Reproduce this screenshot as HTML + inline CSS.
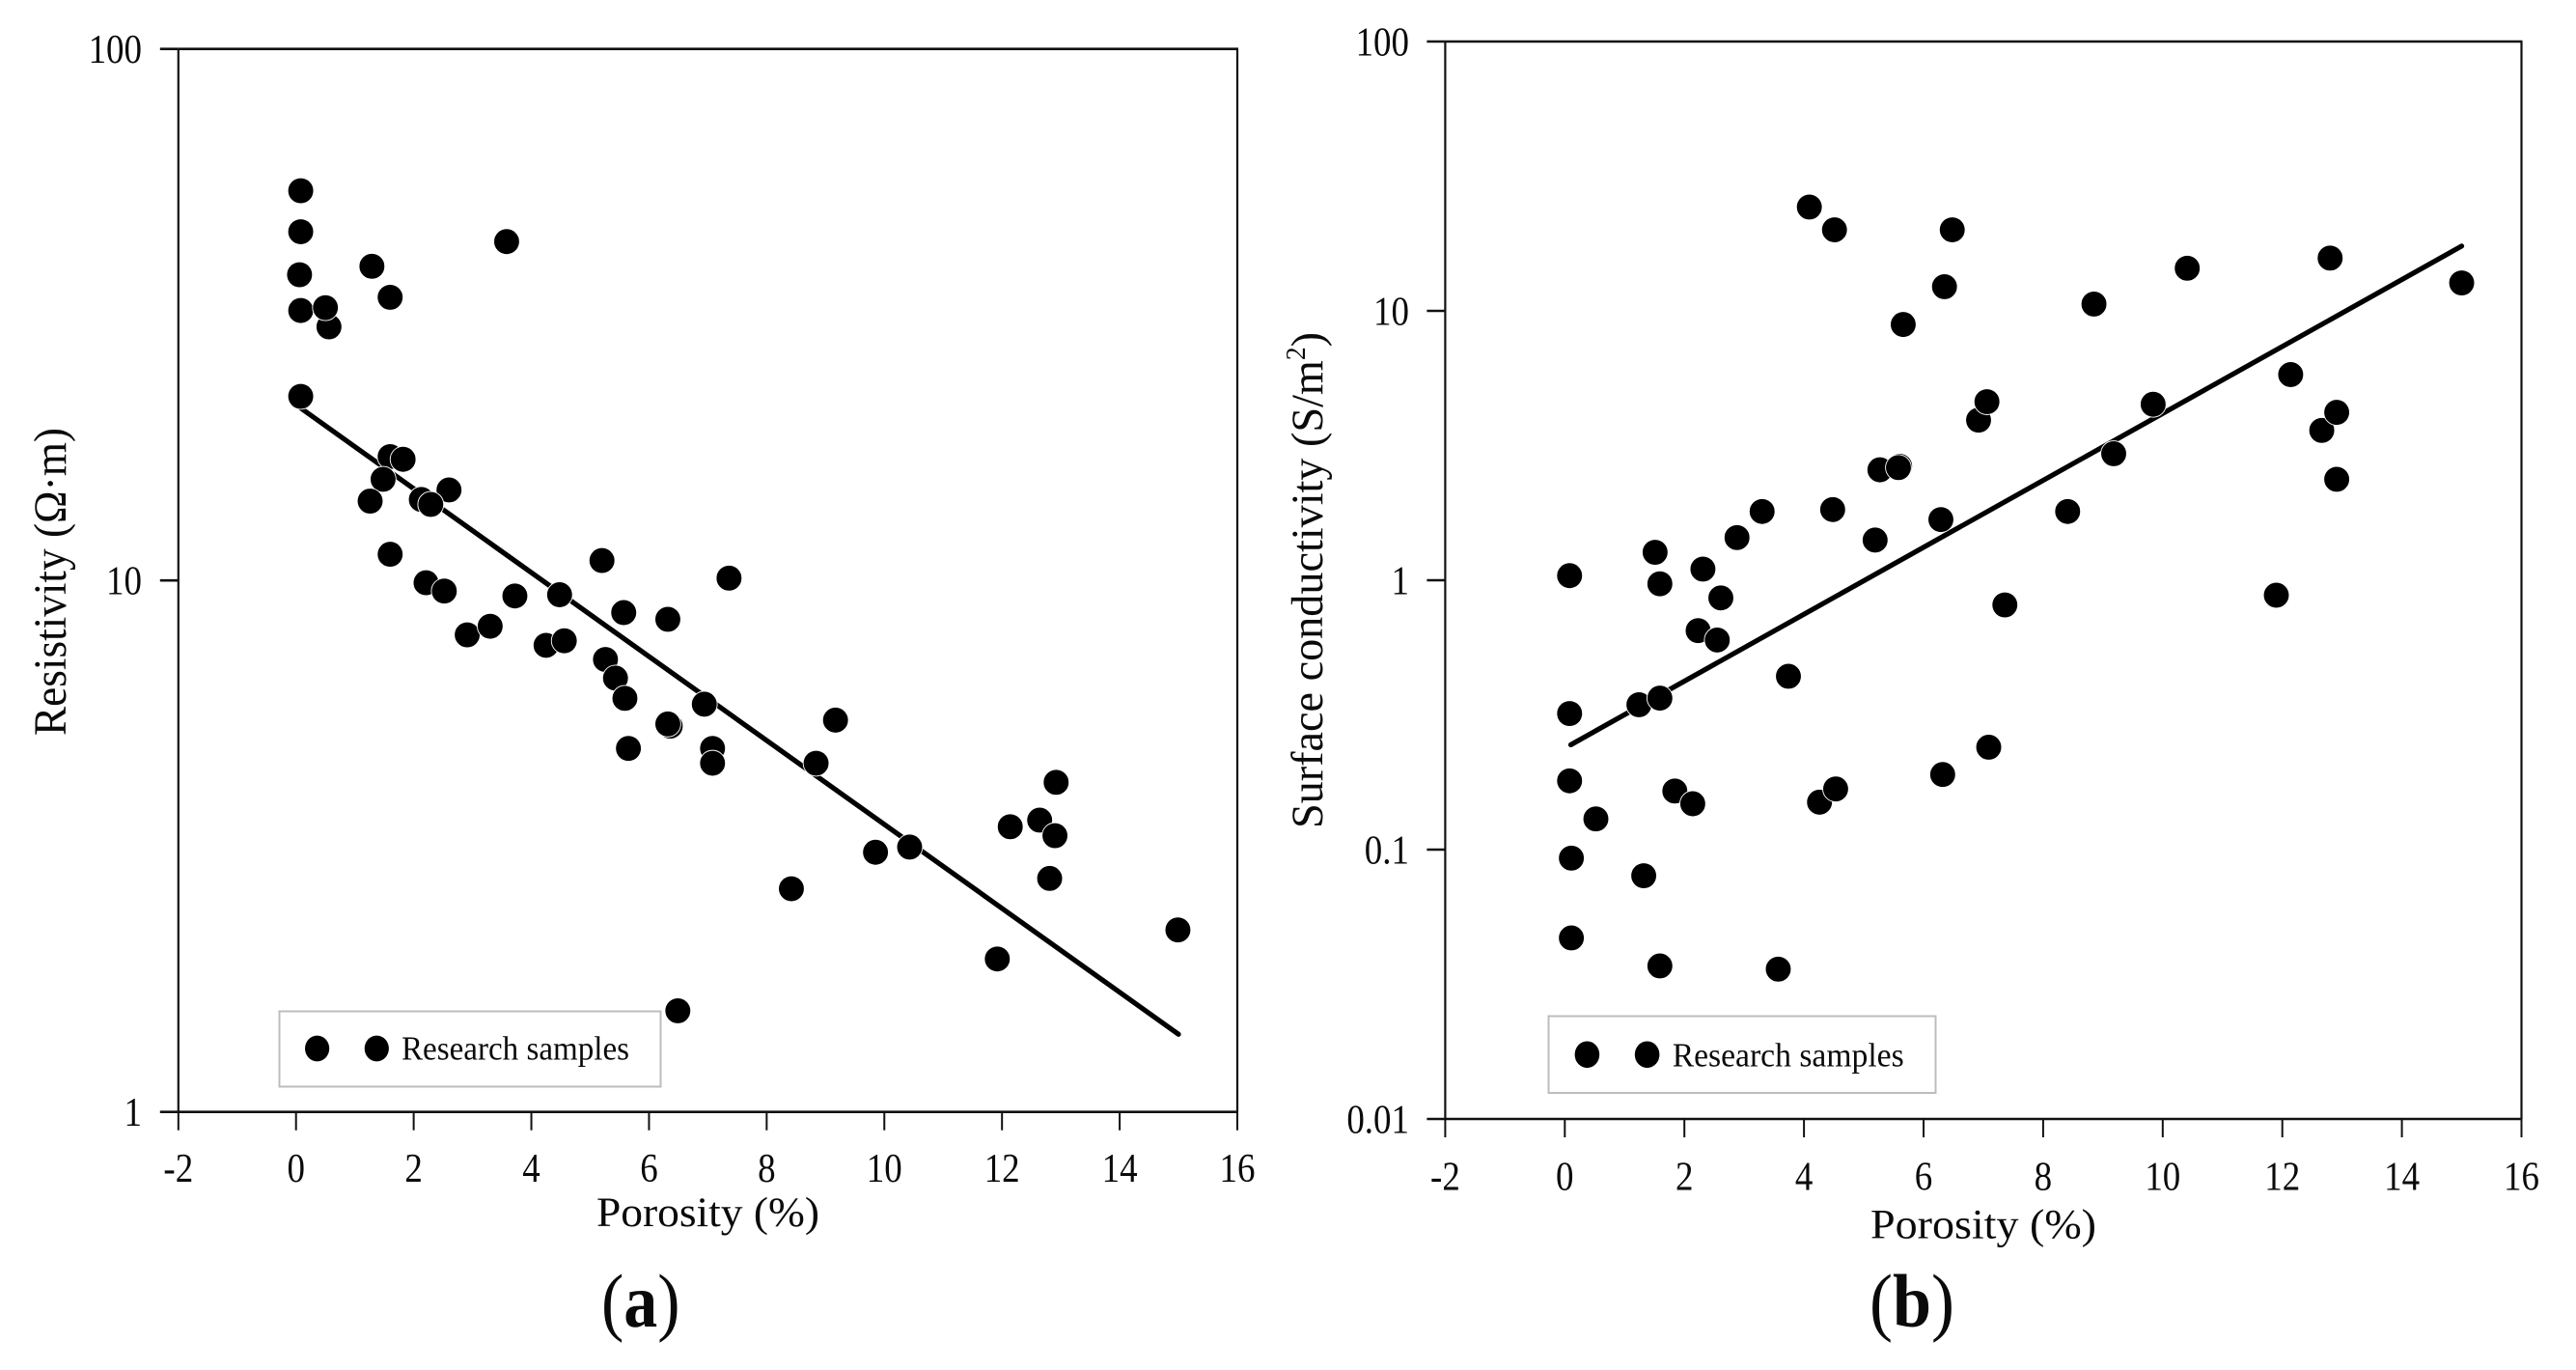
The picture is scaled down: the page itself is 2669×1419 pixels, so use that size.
<!DOCTYPE html>
<html lang="en">
<head>
<meta charset="utf-8">
<title>Resistivity and surface conductivity versus porosity</title>
<style>
html,body{margin:0;padding:0;background:#fff;}
svg{display:block;}
text{font-family:"Liberation Serif",serif;fill:#0a0a0a;}
</style>
</head>
<body>
<svg id="figure" xmlns="http://www.w3.org/2000/svg" width="2669" height="1419" viewBox="0 0 2669 1419">
  <rect x="0" y="0" width="2669" height="1419" fill="#fff"/>

  <g id="panel-a">
    <text transform="translate(68,762) rotate(-90)" font-size="48" textLength="319" lengthAdjust="spacingAndGlyphs">Resistivity (Ω·m)</text>
    <text x="618" y="1270" font-size="43" textLength="231" lengthAdjust="spacingAndGlyphs">Porosity (%)</text>
    <g>
      <rect x="289.5" y="1047.5" width="395" height="78" fill="#fff" stroke="#bdbdbd" stroke-width="2"/>
      <ellipse cx="328.6" cy="1086" rx="12.6" ry="13.4" fill="#000"/>
      <ellipse cx="390.3" cy="1086" rx="12.6" ry="13.4" fill="#000"/>
      <text x="416" y="1097.7" font-size="35" textLength="236" lengthAdjust="spacingAndGlyphs">Research samples</text>
    </g>
    <text x="623" y="1374" font-size="78" textLength="81.6" lengthAdjust="spacingAndGlyphs">(<tspan font-weight="bold">a</tspan>)</text>
  </g>

  <g id="panel-b">
    <text transform="translate(1370,858) rotate(-90)" font-size="47" textLength="514" lengthAdjust="spacingAndGlyphs">Surface conductivity (S/m<tspan font-size="28" dy="-18">2</tspan><tspan dy="18">)</tspan></text>
    <text x="1938" y="1282.7" font-size="43" textLength="234" lengthAdjust="spacingAndGlyphs">Porosity (%)</text>
    <g>
      <rect x="1604.5" y="1052.5" width="401" height="79.5" fill="#fff" stroke="#bdbdbd" stroke-width="2"/>
      <ellipse cx="1644.4" cy="1092.3" rx="12.8" ry="13.8" fill="#000"/>
      <ellipse cx="1706.6" cy="1092.3" rx="12.8" ry="13.8" fill="#000"/>
      <text x="1732.7" y="1104.3" font-size="35" textLength="240" lengthAdjust="spacingAndGlyphs">Research samples</text>
    </g>
    <text x="1937" y="1374" font-size="78" textLength="88" lengthAdjust="spacingAndGlyphs">(<tspan font-weight="bold">b</tspan>)</text>
  </g>
</svg>

<script>
const xTickValues = [-2, 0, 2, 4, 6, 8, 10, 12, 14, 16];
const yTickValuesA = [1, 10, 100];
const yTickLabelsA = ['1', '10', '100'];
const yTickValuesB = [0.01, 0.1, 1, 10, 100];
const yTickLabelsB = ['0.01', '0.1', '1', '10', '100'];

const porosityA = [0.08, 0.08, 0.06, 0.08, 0.56, 0.5, 1.29, 1.6, 3.58, 0.08, 1.6, 1.82, 1.48, 1.26, 2.6, 2.13, 2.29, 1.6, 2.21, 2.52, 2.91, 3.3, 3.72, 4.25, 4.48, 4.56, 5.2, 5.57, 5.26, 5.43, 5.59, 5.65, 6.32, 6.36, 6.32, 6.94, 7.08, 7.08, 7.36, 8.84, 9.17, 8.42, 9.85, 10.43, 6.49, 11.92, 12.14, 12.64, 12.92, 12.9, 12.81, 14.99];
const resistivity = [54.1, 45.3, 37.6, 32.2, 30.0, 32.6, 39.0, 34.1, 43.4, 22.2, 17.1, 16.9, 15.5, 14.1, 14.8, 14.2, 13.9, 11.2, 9.9, 9.55, 7.9, 8.2, 9.35, 7.55, 9.4, 7.7, 10.9, 8.7, 7.1, 6.55, 6.0, 4.83, 8.45, 5.32, 5.37, 5.85, 4.83, 4.53, 10.1, 4.53, 5.46, 2.63, 3.08, 3.15, 1.55, 1.94, 3.44, 3.54, 4.17, 3.31, 2.75, 2.2];
const fitPorosityA = [0.08, 15];
const fitResistivity = [21.1, 1.4];

const porosityB = [0.08, 0.08, 0.08, 0.11, 0.11, 0.52, 1.32, 1.59, 3.57, 1.24, 1.59, 1.51, 1.59, 2.31, 2.23, 2.61, 2.55, 1.84, 2.14, 2.88, 3.3, 3.74, 4.26, 4.53, 4.48, 5.19, 5.27, 5.6, 5.58, 6.29, 6.32, 7.09, 6.92, 7.06, 7.36, 8.41, 9.18, 9.84, 11.9, 12.14, 12.66, 12.91, 12.91, 4.09, 4.51, 5.66, 6.35, 6.48, 8.85, 10.41, 12.8, 15.0];
const surfaceConductivity = [1.04, 0.32, 0.18, 0.093, 0.047, 0.13, 0.08, 0.037, 0.036, 0.345, 0.365, 1.27, 0.97, 1.1, 0.65, 0.86, 0.6, 0.165, 0.148, 1.44, 1.8, 0.44, 0.15, 0.168, 1.83, 1.41, 2.57, 2.65, 2.62, 1.68, 0.19, 0.24, 3.93, 4.6, 0.81, 1.8, 2.95, 4.5, 0.88, 5.8, 3.6, 4.2, 2.37, 24.3, 20, 8.9, 12.3, 20, 10.6, 14.4, 15.7, 12.7];
const fitPorosityB = [0.1, 15];
const fitConductivity = [0.245, 17.4];

const SVGNS = 'http://www.w3.org/2000/svg';

function svgEl(tag, parent) {
  const el = document.createElementNS(SVGNS, tag);
  parent.appendChild(el);
  return el;
}

function drawLine(parent, x1, y1, x2, y2, width) {
  const el = svgEl('line', parent);
  el.setAttribute('x1', x1);
  el.setAttribute('y1', y1);
  el.setAttribute('x2', x2);
  el.setAttribute('y2', y2);
  el.setAttribute('stroke', '#111');
  el.setAttribute('stroke-width', width);
  return el;
}

function drawPanel(panelId, suffix, g, yTicks, yLabels, xs, ys, fitX, fitY) {
  const parent = document.getElementById(panelId);
  const xScale = v => g.x0 + (v - (-2)) / 18 * (g.x1 - g.x0);
  const yMin = Math.log10(yTicks[0]);
  const yMax = Math.log10(yTicks[yTicks.length - 1]);
  const yScale = v => g.y1 - (Math.log10(v) - yMin) / (yMax - yMin) * (g.y1 - g.y0);

  const frameLeft = drawLine(parent, g.x0, g.y0, g.x0, g.y1, 2.2);
  
  
  const frameRight = drawLine(parent, g.x1, g.y0, g.x1, g.y1, 2.2);
  
  
  const frameTop = drawLine(parent, g.x0, g.y0, g.x1 + 1, g.y0, 2.6);
  
  
  const frameBottom = drawLine(parent, g.x0, g.y1, g.x1 + 1, g.y1, 2.6);
  
  

  xTickValues.forEach(v => {
    const px = xScale(v);
    const tick = drawLine(parent, px, g.y1, px, g.y1 + 19, 2);
    
    
    const label = svgEl('text', parent);
    
    
    label.setAttribute('transform', 'translate(' + px + ',' + g.xLabelY + ') scale(0.88,1)');
    label.setAttribute('font-size', '42');
    label.setAttribute('text-anchor', 'middle');
    label.textContent = String(v);
  });

  yTicks.forEach((v, i) => {
    const py = yScale(v);
    const tick = drawLine(parent, g.x0 - 19, py, g.x0, py, 2.6);
    
    
    const label = svgEl('text', parent);
    
    
    label.setAttribute('transform', 'translate(' + g.yLabelX + ',' + (py + 14.4) + ') scale(0.88,1)');
    label.setAttribute('font-size', '42');
    label.setAttribute('text-anchor', 'end');
    label.textContent = yLabels[i];
  });

  const fit = drawLine(parent, xScale(fitX[0]), yScale(fitY[0]), xScale(fitX[1]), yScale(fitY[1]), 5.2);
  fit.setAttribute('stroke', '#000');
  fit.setAttribute('stroke-linecap', 'round');
  
  

  xs.forEach((v, i) => {
    const dot = svgEl('circle', parent);
    dot.setAttribute('cx', xScale(v));
    dot.setAttribute('cy', yScale(ys[i]));
    dot.setAttribute('r', 13.4);
    dot.setAttribute('fill', '#000');
    dot.setAttribute('stroke', '#fff');
    dot.setAttribute('stroke-width', 0.9);
    
    
  });
}

drawPanel('panel-a', 'a', {x0: 184.8, x1: 1282, y0: 50.7, y1: 1151.7, xLabelY: 1224, yLabelX: 147}, yTickValuesA, yTickLabelsA, porosityA, resistivity, fitPorosityA, fitResistivity);
drawPanel('panel-b', 'b', {x0: 1497.4, x1: 2612.5, y0: 43, y1: 1159, xLabelY: 1232.6, yLabelX: 1460}, yTickValuesB, yTickLabelsB, porosityB, surfaceConductivity, fitPorosityB, fitConductivity);
</script>
</body>
</html>
